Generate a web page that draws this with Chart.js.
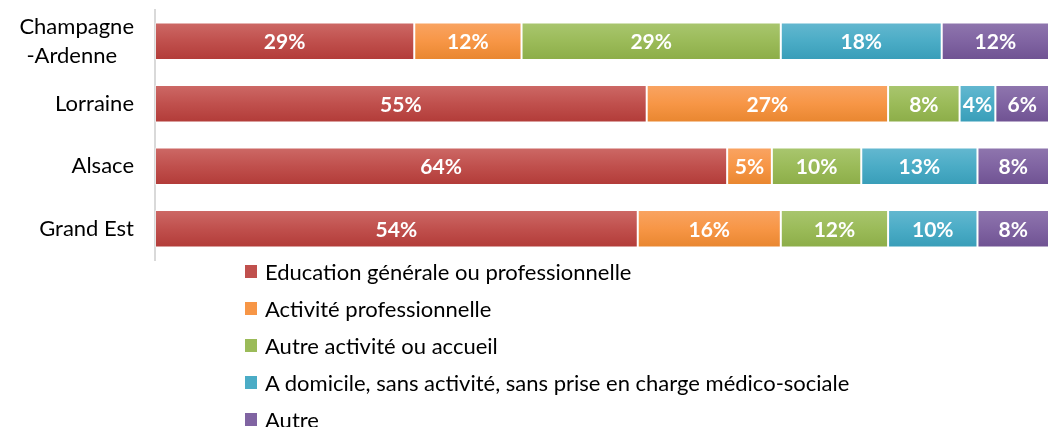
<!DOCTYPE html>
<html>
<head>
<meta charset="utf-8">
<script src="https://cdn.jsdelivr.net/npm/chart.js@4.4.1/dist/chart.umd.min.js"></script>
<style>
  html, body { margin: 0; padding: 0; background: #fff; }
  body { width: 1050px; height: 427px; overflow: hidden; position: relative; font-family: Lato, sans-serif; }
  #chart { position: absolute; left: 0; top: 0; }
  #legend { position: absolute; left: 245px; top: 253px; margin: 0; padding: 0; list-style: none; }
  #legend li { height: 37px; display: flex; align-items: center; font-size: 22px; color: #000; white-space: nowrap; }
  #legend span { display: inline-block; width: 12px; height: 13px; margin-right: 8px; }
</style>
</head>
<body>
<canvas id="chart" width="1050" height="262"></canvas>
<ul id="legend"></ul>
<script>
const regions = [['Champagne', '-Ardenne\u00a0\u00a0\u00a0'], 'Lorraine', 'Alsace', 'Grand Est'];
const seriesNames = [
  'Education générale ou professionnelle',
  'Activité professionnelle',
  'Autre activité ou accueil',
  'A domicile, sans activité, sans prise en charge médico-sociale',
  'Autre'
];
const education = [29, 55, 64, 54];
const activitePro = [12, 27, 5, 16];
const autreActivite = [29, 8, 10, 12];
const domicile = [18, 4, 13, 10];
const autre = [12, 6, 8, 8];

// top / middle / bottom shades, Excel 2010 style
const shades = [
  ['#cd6966', '#c0504d', '#b23b38'],
  ['#f9a463', '#f79646', '#e8862f'],
  ['#a9c66f', '#9bbb59', '#8cad48'],
  ['#64b8d0', '#4bacc6', '#389db8'],
  ['#8f76ae', '#8064a2', '#6f5292']
];

const barPct = 0.6;

function gradientFor(i) {
  return (ctx) => {
    const chart = ctx.chart;
    const y = chart.scales && chart.scales.y;
    if (ctx.type !== 'data' || !y || !chart.chartArea) return shades[i][1];
    const c = y.getPixelForValue(ctx.dataIndex);
    const h = y.height / regions.length * barPct;
    const g = chart.ctx.createLinearGradient(0, c - h / 2, 0, c + h / 2);
    g.addColorStop(0, shades[i][0]);
    g.addColorStop(0.5, shades[i][1]);
    g.addColorStop(1, shades[i][2]);
    return g;
  };
}

const valueLabels = {
  id: 'valueLabels',
  afterDatasetsDraw(chart) {
    const ctx = chart.ctx;
    ctx.save();
    ctx.font = 'bold 21px Lato';
    ctx.fillStyle = '#ffffff';
    ctx.textAlign = 'center';
    ctx.textBaseline = 'middle';
    chart.data.datasets.forEach((ds, i) => {
      chart.getDatasetMeta(i).data.forEach((bar, j) => {
        const p = bar.getProps(['x', 'y', 'base'], true);
        ctx.fillText(ds.data[j] + '%', (p.x + p.base) / 2, p.y + 1);
      });
    });
    ctx.restore();
  }
};

const allData = [education, activitePro, autreActivite, domicile, autre];

const chart = new Chart(document.getElementById('chart'), {
  type: 'bar',
  data: {
    labels: regions,
    datasets: allData.map((vals, i) => ({
      label: seriesNames[i],
      data: vals,
      backgroundColor: gradientFor(i),
      borderColor: 'rgba(255,255,255,0.35)',
      borderWidth: 1,
      borderSkipped: false,
      categoryPercentage: 1,
      barPercentage: barPct
    }))
  },
  options: {
    indexAxis: 'y',
    responsive: false,
    animation: false,
    layout: { padding: { top: 10, bottom: 2, right: 1, left: 0 } },
    plugins: {
      legend: { display: false },
      tooltip: { enabled: false }
    },
    scales: {
      x: {
        stacked: true,
        min: 0,
        max: 100,
        display: false
      },
      y: {
        stacked: true,
        grid: { display: false, drawTicks: false },
        border: { display: true, color: '#d9d9d9', width: 2 },
        ticks: {
          color: '#000',
          padding: 21,
          font: { family: 'Lato', size: 22, lineHeight: 1.3 }
        },
        afterFit(scale) {
          scale.width = 155;
          scale.paddingTop = 0;
          scale.paddingBottom = 0;
        }
      }
    }
  },
  plugins: [valueLabels]
});

const legendEl = document.getElementById('legend');
seriesNames.forEach((name, i) => {
  const li = document.createElement('li');
  const box = document.createElement('span');
  box.style.background = shades[i][1];
  li.appendChild(box);
  li.appendChild(document.createTextNode(name));
  legendEl.appendChild(li);
});
</script>
</body>
</html>
